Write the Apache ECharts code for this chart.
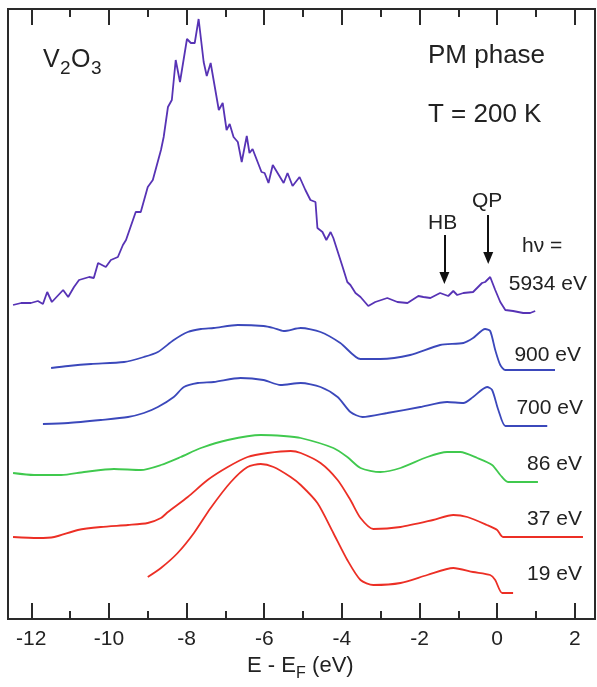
<!DOCTYPE html>
<html>
<head>
<meta charset="utf-8">
<script src="https://cdn.jsdelivr.net/npm/echarts@6/dist/echarts.min.js"></script>
<style>
  html, body { margin: 0; padding: 0; background: #fff; }
  #chart { width: 597px; height: 687px; }
</style>
</head>
<body>
<div id="chart"></div>
<script>
// Photoemission spectra of V2O3 (PM phase, T = 200 K), offset vertically by photon energy.
// Energies in eV relative to E_F, intensities in arbitrary (offset) units.

const hv5934E = [-12.47,-12.26,-12.01,-11.83,-11.70,-11.59,-11.47,-11.18,-11.05,-10.90,-10.77,-10.51,-10.39,-10.28,-10.08,-9.95,-9.77,-9.64,-9.56,-9.31,-9.18,-9.00,-8.87,-8.66,-8.59,-8.48,-8.38,-8.28,-8.17,-7.99,-7.89,-7.79,-7.69,-7.56,-7.48,-7.38,-7.17,-7.07,-6.97,-6.89,-6.79,-6.68,-6.58,-6.45,-6.38,-6.30,-6.07,-5.99,-5.89,-5.78,-5.50,-5.40,-5.27,-5.09,-4.94,-4.81,-4.68,-4.63,-4.50,-4.40,-4.29,-4.22,-3.98,-3.86,-3.78,-3.65,-3.52,-3.32,-3.14,-2.83,-2.57,-2.31,-2.03,-1.90,-1.72,-1.47,-1.26,-1.13,-1.03,-0.87,-0.62,-0.39,-0.31,-0.18,-0.05,0.08,0.21,0.41,0.67,0.85,0.98];
const hv5934I = [314,316,316,318,315,327,317,329,322,332,339,342,341,356,352,359,362,374,379,407,407,432,439,469,482,512,519,559,537,580,576,576,600,557,543,556,509,516,489,495,482,477,457,483,466,470,447,446,436,454,436,446,433,442,429,419,417,391,387,379,387,381,352,337,334,326,322,313,317,321,317,316,323,322,321,326,323,328,324,326,327,336,337,342,329,317,309,308,306,306,308];

const hv900E = [-11.49,-11.05,-10.46,-9.61,-9.10,-8.74,-8.33,-7.97,-7.63,-7.30,-6.68,-6.02,-5.76,-5.50,-5.06,-4.55,-4.04,-3.52,-3.01,-2.24,-1.47,-0.87,-0.62,-0.31,-0.18,-0.05,0.08,0.21,0.59,1.49];
const hv900I = [251,253,255,257,262,267,279,287,290,291,294,293,291,288,291,287,276,260,260,264,274,276,281,290,288,269,254,249,249,249];

const hv700E = [-11.70,-11.05,-10.21,-9.51,-9.10,-8.74,-8.33,-8.07,-7.71,-7.30,-6.61,-6.02,-5.58,-5.06,-4.55,-4.11,-3.78,-3.47,-2.83,-1.98,-1.29,-0.87,-0.62,-0.26,-0.13,0.03,0.21,0.41,1.29];
const hv700I = [195,196,199,202,206,212,222,232,236,237,241,239,234,236,232,222,207,202,206,212,217,216,222,232,229,209,193,193,193];

const hv86E = [-12.47,-11.93,-11.23,-10.64,-9.87,-9.18,-8.66,-8.15,-7.63,-6.94,-6.09,-5.50,-5.06,-4.22,-3.86,-3.52,-3.01,-2.49,-1.80,-1.29,-0.95,-0.51,-0.13,0.08,0.28,1.05];
const hv86I = [146,144,144,147,150,149,154,162,171,179,184,183,181,171,162,151,147,151,162,167,167,161,154,144,137,137];

const hv37E = [-12.47,-11.83,-11.41,-10.80,-10.21,-9.51,-9.00,-8.66,-8.48,-7.97,-7.46,-6.94,-6.43,-5.91,-5.32,-5.06,-4.55,-4.11,-3.78,-3.52,-3.19,-2.49,-1.65,-1.13,-0.77,-0.26,0.00,0.15,2.21];
const hv37I = [82,81,82,89,92,94,96,101,107,122,139,152,162,166,168,166,156,139,119,101,90,92,99,104,102,94,89,82,82];

const hv19E = [-9.00,-8.66,-8.23,-7.81,-7.38,-6.86,-6.43,-6.09,-5.76,-5.32,-5.06,-4.63,-4.22,-3.86,-3.52,-3.19,-2.49,-1.80,-1.13,-0.62,-0.18,-0.05,0.13,0.41];
const hv19I = [42,51,66,86,111,137,152,155,152,142,134,116,86,59,39,34,36,44,51,47,44,39,26,26];

// Axis ticks
const xTicks = [-12,-10,-8,-6,-4,-2,0,2];
const xMinorTicks = [-11,-9,-7,-5,-3,-1,1];

// Annotation arrows (energy, start intensity, tip intensity)
const arrowHB = [-1.36, 384, 341];
const arrowQP = [-0.23, 404, 361];

const spectra = [
  { name: '5934 eV', e: hv5934E, i: hv5934I, color: '#5733b5', smooth: false },
  { name: '900 eV',  e: hv900E,  i: hv900I,  color: '#3b48bb', smooth: 0.25 },
  { name: '700 eV',  e: hv700E,  i: hv700I,  color: '#3b48bb', smooth: 0.25 },
  { name: '86 eV',   e: hv86E,   i: hv86I,   color: '#40c94e', smooth: 0.25 },
  { name: '37 eV',   e: hv37E,   i: hv37I,   color: '#ec2f25', smooth: 0.25 },
  { name: '19 eV',   e: hv19E,   i: hv19I,   color: '#ec2f25', smooth: 0.25 }
];

const FONT = "'Liberation Sans', Arial, Helvetica, sans-serif";
const INK = '#222';

const chart = echarts.init(document.getElementById('chart'), null, { renderer: 'canvas' });

function tickAxis(position, values, len, labels) {
  return {
    type: 'value', position: position, min: -12.6, max: 2.52,
    axisLine: { show: false },
    splitLine: { show: false },
    axisTick: { show: true, inside: true, length: len, customValues: values,
                lineStyle: { color: '#2a2a2a', width: 2 } },
    axisLabel: labels
      ? { show: true, customValues: values, fontSize: 21, color: INK, fontFamily: FONT, margin: 10 }
      : { show: false }
  };
}

const series = spectra.map((s) => ({
  name: s.name,
  type: 'line',
  xAxisIndex: 0,
  yAxisIndex: 0,
  showSymbol: false,
  silent: true,
  animation: false,
  smooth: s.smooth,
  lineStyle: { color: s.color, width: 1.8 },
  data: s.e.map((x, j) => [x, s.i[j]])
}));

series[0].markLine = {
  silent: true,
  animation: false,
  symbol: ['none', 'triangle'],
  symbolSize: [10, 12],
  label: { show: false },
  lineStyle: { color: '#111', width: 2, type: 'solid' },
  data: [
    [{ coord: [arrowHB[0], arrowHB[1]] }, { coord: [arrowHB[0], arrowHB[2]] }],
    [{ coord: [arrowQP[0], arrowQP[1]] }, { coord: [arrowQP[0], arrowQP[2]] }]
  ]
};

function txt(str, x, y, size, align) {
  return {
    type: 'text', x: x, y: y, silent: true,
    style: { text: str, font: size + 'px ' + FONT, fill: INK,
             textAlign: align || 'left', textVerticalAlign: 'middle' }
  };
}

const graphics = [
  // V2O3 with subscripts
  txt('V', 43, 60, 25), txt('2', 60, 69, 19), txt('O', 71, 60, 25), txt('3', 91, 69, 19),
  txt('PM phase', 428, 56, 26),
  txt('T = 200 K', 428, 115, 26),
  txt('QP', 472, 201, 21),
  txt('HB', 428, 223, 21),
  txt('h\u03bd =', 522, 246, 21),
  txt('5934 eV', 587, 284, 21, 'right'),
  txt('900 eV', 581, 355, 21, 'right'),
  txt('700 eV', 583, 408, 21, 'right'),
  txt('86 eV', 582, 464, 21, 'right'),
  txt('37 eV', 582, 519, 21, 'right'),
  txt('19 eV', 582, 574, 21, 'right'),
  // axis title: E - E_F (eV)
  txt('E - E', 247, 666, 22), txt('F', 296, 674, 16), txt(' (eV)', 306, 666, 22)
];

chart.setOption({
  animation: false,
  backgroundColor: '#fff',
  grid: { left: 8, right: 2, top: 9, bottom: 68, show: true,
          borderColor: '#2a2a2a', borderWidth: 2, backgroundColor: 'transparent' },
  xAxis: [
    tickAxis('bottom', xTicks, 16, true),
    tickAxis('bottom', xMinorTicks, 8, false),
    tickAxis('top', xTicks, 16, false),
    tickAxis('top', xMinorTicks, 8, false)
  ],
  yAxis: { type: 'value', min: 0, max: 610, show: false },
  series: series,
  graphic: graphics
});
</script>
</body>
</html>
